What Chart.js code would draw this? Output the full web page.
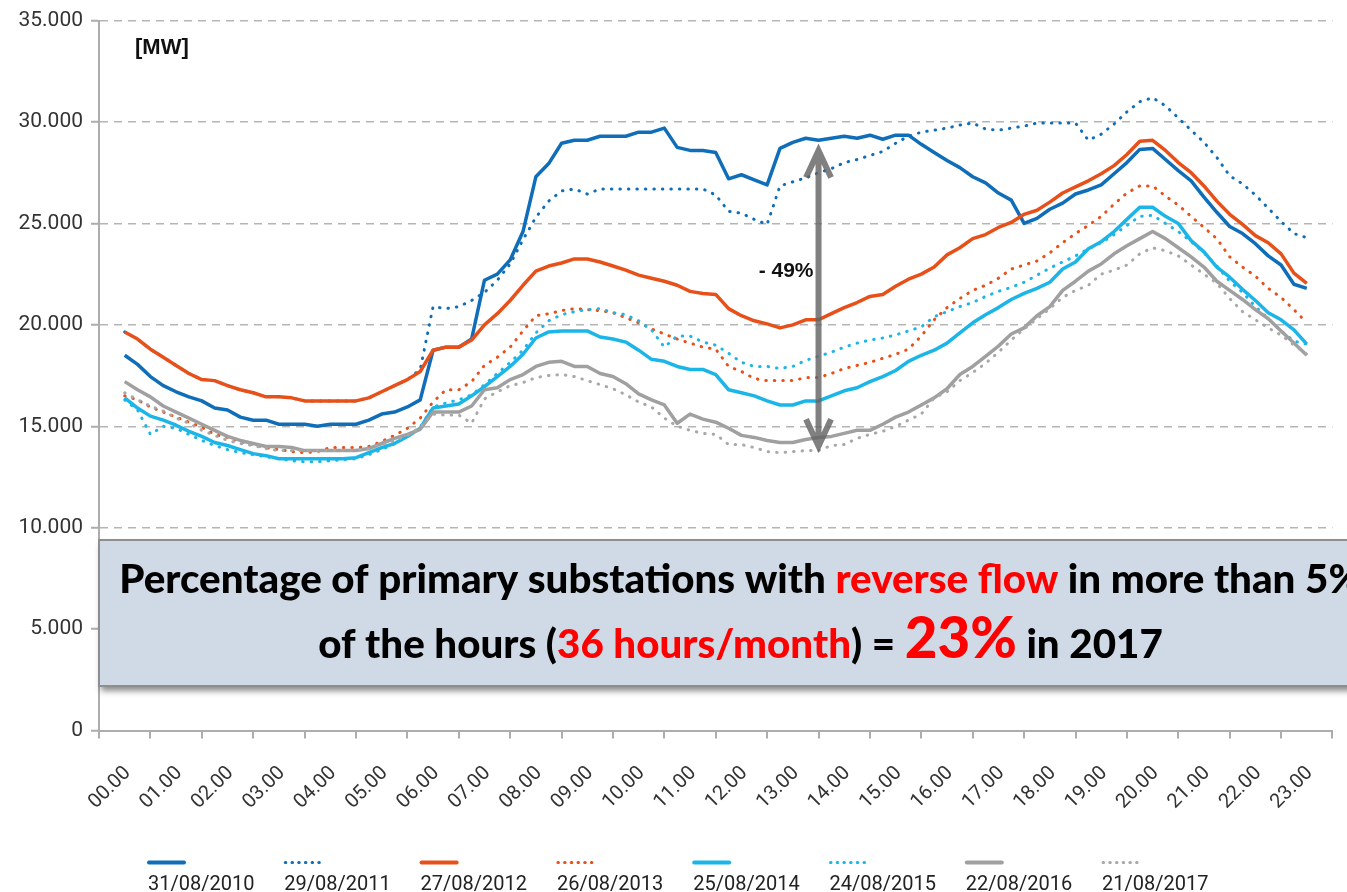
<!DOCTYPE html>
<html>
<head>
<meta charset="utf-8">
<script src="https://cdn.jsdelivr.net/npm/chart.js@4.4.0/dist/chart.umd.min.js"></script>
<style>
html,body{margin:0;padding:0;background:#fff;}
#wrap{width:1347px;height:892px;position:relative;}
</style>
</head>
<body>
<div id="wrap"><canvas id="c"></canvas></div>
<script>
// ---------- DATA ----------
const hourLabels = ['00.00','01.00','02.00','03.00','04.00','05.00','06.00','07.00','08.00','09.00','10.00','11.00',
  '12.00','13.00','14.00','15.00','16.00','17.00','18.00','19.00','20.00','21.00','22.00','23.00'];

const seriesNames = ['31/08/2010','29/08/2011','27/08/2012','26/08/2013','25/08/2014','24/08/2015','22/08/2016','21/08/2017'];

// quarter-hour samples, 00:00 .. 23:00 (MW)
const s2010 = [18500,18050,17450,17000,16700,16450,16250,15900,15800,15450,
  15300,15300,15100,15100,15100,15000,15100,15100,15100,15300,
  15600,15700,15950,16300,18750,18900,18900,19300,22200,22500,
  23200,24600,27300,27950,28950,29100,29100,29300,29300,29300,
  29500,29500,29700,28750,28600,28600,28500,27200,27400,27150,
  26900,28700,29000,29200,29100,29200,29300,29200,29350,29150,
  29350,29350,28900,28500,28100,27750,27300,27000,26500,26150,
  25000,25250,25700,26000,26450,26650,26900,27450,28000,28650,
  28700,28150,27600,27100,26300,25550,24850,24500,24000,23400,
  22950,22000,21800];

const s2011 = [19650,19300,18800,18400,18000,17600,17300,17250,17000,16800,
  16650,16450,16450,16400,16250,16250,16250,16250,16250,16400,
  16700,17000,17300,17800,20900,20800,20900,21200,21600,22200,
  23000,24200,25300,26100,26600,26700,26450,26700,26700,26700,
  26700,26700,26700,26700,26700,26700,26400,25600,25500,25200,
  24950,26850,27050,27250,27500,27700,28000,28150,28350,28550,
  28950,29300,29500,29600,29700,29850,29950,29650,29600,29700,
  29800,29950,29950,29950,29950,29100,29400,29900,30500,31000,
  31200,30800,30200,29600,29000,28250,27350,26950,26400,25750,
  25100,24500,24300];

const s2012 = [19650,19300,18800,18400,18000,17600,17300,17250,17000,16800,
  16650,16450,16450,16400,16250,16250,16250,16250,16250,16400,
  16700,17000,17300,17700,18750,18900,18900,19250,20000,20550,
  21200,21950,22650,22900,23050,23250,23250,23100,22900,22700,
  22450,22300,22150,21950,21650,21550,21500,20800,20450,20200,
  20050,19850,20000,20250,20250,20550,20850,21100,21400,21500,
  21900,22250,22500,22850,23450,23800,24250,24450,24800,25050,
  25450,25650,26050,26500,26800,27100,27450,27850,28400,29050,
  29100,28600,28000,27500,26850,26100,25450,24950,24400,24050,
  23500,22550,22050];

const s2013 = [16500,16300,15950,15700,15450,15200,14950,14600,14450,14250,
  14100,13950,13850,13750,13700,13750,13950,13950,13950,14000,
  14250,14550,14900,15400,16200,16800,16800,17200,18000,18400,
  18900,19700,20450,20550,20700,20800,20750,20700,20600,20350,
  20100,19800,19550,19300,19100,18900,18800,17950,17700,17350,
  17250,17250,17250,17400,17400,17600,17850,18000,18150,18350,
  18550,18800,19450,20250,20850,21300,21700,21950,22300,22750,
  22950,23150,23550,24050,24500,24900,25350,25950,26500,26850,
  26850,26350,25900,25350,24800,24250,23350,22850,22400,21800,
  21350,20750,20100];

const s2014 = [16400,15900,15500,15300,15050,14750,14500,14200,14050,13850,
  13650,13550,13400,13400,13400,13400,13400,13400,13450,13700,
  13950,14150,14500,14900,15900,16000,16100,16500,16950,17450,
  17950,18550,19350,19650,19700,19700,19700,19400,19300,19150,
  18750,18300,18200,17950,17800,17800,17550,16800,16650,16500,
  16250,16050,16050,16250,16250,16500,16750,16900,17200,17450,
  17750,18200,18500,18750,19100,19600,20100,20500,20850,21250,
  21550,21800,22100,22750,23100,23750,24100,24600,25200,25800,
  25800,25350,25000,24150,23600,22850,22350,21750,21200,20600,
  20250,19750,19050];

const s2015 = [16300,15800,14600,15000,14900,14600,14300,14050,13850,13700,
  13600,13500,13400,13300,13250,13250,13300,13350,13400,13600,
  13850,14150,14500,14950,15950,16150,16300,16550,17050,17600,
  18150,18750,19600,20200,20500,20650,20750,20800,20600,20500,
  20200,19750,18900,19450,19450,19150,19000,18600,18150,17950,
  17950,17850,17950,18250,18450,18650,18900,19100,19250,19350,
  19500,19700,19900,20400,20650,20900,21100,21400,21650,21850,
  22100,22450,22800,23100,23400,23750,24050,24450,24900,25350,
  25400,25000,24600,24100,23550,22900,22150,21600,20900,20300,
  19700,19200,19050];

const s2016 = [17200,16800,16450,16000,15700,15400,15100,14800,14500,14300,
  14150,14000,14000,13950,13800,13800,13800,13800,13800,13900,
  14150,14400,14600,14850,15700,15700,15700,16000,16800,16900,
  17300,17550,17950,18150,18200,17950,17950,17600,17450,17100,
  16600,16300,16050,15150,15600,15350,15200,14900,14550,14450,
  14300,14200,14200,14350,14450,14500,14650,14800,14800,15100,
  15450,15700,16050,16400,16850,17550,17950,18450,18950,19550,
  19850,20450,20900,21700,22150,22650,23000,23500,23900,24250,
  24600,24250,23800,23350,22850,22150,21700,21250,20750,20300,
  19700,19100,18500];

const s2017 = [16650,16300,16000,15750,15400,15150,14800,14550,14300,14150,
  14050,13900,13800,13800,13800,13800,13800,13800,13800,13900,
  14100,14300,14550,14950,15600,15550,15550,15150,16350,16700,
  17000,17150,17400,17500,17550,17450,17250,17050,16850,16550,
  16200,15950,15400,15000,14800,14650,14600,14100,14100,13950,
  13750,13700,13750,13800,13800,14050,14100,14400,14600,14750,
  15000,15300,15600,16400,16700,17250,17650,18100,18650,19250,
  19800,20300,20800,21350,21700,21950,22500,22700,22950,23500,
  23800,23650,23400,22950,22500,22050,21300,20650,20250,19850,
  19500,19000,18550];

const yTicks = [0,5000,10000,15000,20000,25000,30000,35000];

// annotation values
const arrowHour = 13.5, arrowTop = 28740, arrowBottom = 13870;
const arrowLabel = '- 49%';

// ---------- STYLES ----------
const seriesValues = [s2010,s2011,s2012,s2013,s2014,s2015,s2016,s2017];
const seriesColors = ['#106EB9','#106EB9','#E8501A','#E8501A','#1BB5E8','#1BB5E8','#A0A0A0','#A8A8A8'];
const seriesDotted = [false,true,false,true,false,true,false,true];
const times = s2010.map((_, i) => i / 4); // hour of each quarter-hour sample

const datasets = seriesValues.map((vals, i) => ({
  label: seriesNames[i],
  data: vals.map((v, k) => ({x: times[k], y: v})),
  xAxisID: 'xl',
  yAxisID: 'y',
  borderColor: seriesColors[i],
  backgroundColor: seriesColors[i],
  borderWidth: seriesDotted[i] ? 3 : 3.5,
  borderDash: seriesDotted[i] ? [0.5, 8] : [],
  borderCapStyle: seriesDotted[i] ? 'round' : 'butt',
  borderJoinStyle: 'round',
  pointRadius: 0,
  tension: 0,
  fill: false,
  order: 7 - i
}));

function fmt(v){ return String(v).replace(/\B(?=(\d{3})+(?!\d))/g, '.'); }

const overlay = {
  id: 'overlay',
  afterDatasetsDraw(chart) {
    const ctx = chart.ctx, xl = chart.scales.xl, y = chart.scales.y;
    const ax = xl.getPixelForValue(arrowHour);
    const yT = y.getPixelForValue(arrowTop), yB = y.getPixelForValue(arrowBottom);
    ctx.save();
    ctx.strokeStyle = 'rgba(100,100,100,0.82)';
    ctx.lineWidth = 6;
    ctx.lineJoin = 'miter';
    ctx.lineCap = 'butt';
    ctx.beginPath();
    ctx.moveTo(ax - 12.5, yT + 30); ctx.lineTo(ax, yT + 3); ctx.lineTo(ax + 12.5, yT + 30);
    ctx.moveTo(ax, yT + 4); ctx.lineTo(ax, yB - 4);
    ctx.moveTo(ax - 12.5, yB - 30); ctx.lineTo(ax, yB - 3); ctx.lineTo(ax + 12.5, yB - 30);
    ctx.stroke();
    ctx.fillStyle = '#111';
    ctx.font = 'bold 21px "Liberation Sans", Arial, sans-serif';
    ctx.textAlign = 'right';
    ctx.textBaseline = 'middle';
    ctx.fillText(arrowLabel, ax - 5, y.getPixelForValue(22620));
    // unit label
    ctx.textAlign = 'left';
    ctx.textBaseline = 'alphabetic';
    ctx.font = 'bold 22px "Liberation Sans", Arial, sans-serif';
    ctx.fillText('[MW]', chart.chartArea.left + 36, chart.chartArea.top + 33);
    ctx.restore();
  },
  afterDraw(chart) {
    const ctx = chart.ctx;
    const left = chart.chartArea.left;
    ctx.save();
    // box
    ctx.shadowColor = 'rgba(0,0,0,0.45)';
    ctx.shadowBlur = 6;
    ctx.shadowOffsetX = 2;
    ctx.shadowOffsetY = 5;
    ctx.fillStyle = '#CFDAE6';
    ctx.fillRect(left, 540, 1400 - left, 146);
    ctx.shadowColor = 'rgba(0,0,0,0)';
    ctx.strokeStyle = '#8E8E8E';
    ctx.lineWidth = 2;
    ctx.strokeRect(left, 540, 1400 - left, 146);

    const cx = 740.5;
    const fam = 'Lato, "Open Sans", sans-serif';
    const wt = 900;
    let fs = 40;
    const line1 = [['Percentage of primary substations with ', '#000'], ['reverse flow', '#FF0000'], [' in more than 5%', '#000']];
    ctx.font = `${wt} ${fs}px ${fam}`;
    let w1 = line1.reduce((a, p) => a + ctx.measureText(p[0]).width, 0);
    fs = fs * 1243 / w1;
    ctx.font = `${wt} ${fs}px ${fam}`;
    w1 = line1.reduce((a, p) => a + ctx.measureText(p[0]).width, 0);
    ctx.textBaseline = 'alphabetic';
    ctx.textAlign = 'left';
    let x = cx - w1 / 2;
    for (const [t, c] of line1) { ctx.fillStyle = c; ctx.fillText(t, x, 593); x += ctx.measureText(t).width; }

    const big = fs * 1.4;
    const line2 = [['of the hours (', '#000', fs], ['36 hours/month', '#FF0000', fs], [') = ', '#000', fs], ['23%', '#FF0000', big], [' in 2017', '#000', fs]];
    let w2 = 0;
    for (const [t, c, s] of line2) { ctx.font = `${wt} ${s}px ${fam}`; w2 += ctx.measureText(t).width; }
    x = cx - w2 / 2;
    for (const [t, c, s] of line2) { ctx.font = `${wt} ${s}px ${fam}`; ctx.fillStyle = c; ctx.fillText(t, x, 658); x += ctx.measureText(t).width; }

    // legend
    ctx.font = '20px Roboto, sans-serif';
    ctx.textAlign = 'left';
    ctx.textBaseline = 'alphabetic';
    chart.data.datasets.forEach((ds, i) => {
      const x0 = 148 + i * 136.3;
      ctx.strokeStyle = ds.borderColor;
      ctx.lineWidth = 4;
      if (seriesDotted[i]) { ctx.setLineDash([0.5, 6.2]); ctx.lineCap = 'round'; ctx.lineWidth = 3; }
      else { ctx.setLineDash([]); ctx.lineCap = 'round'; }
      ctx.beginPath();
      ctx.moveTo(x0 + 1, 862.5); ctx.lineTo(x0 + 36, 862.5);
      ctx.stroke();
      ctx.setLineDash([]);
      ctx.fillStyle = '#222';
      ctx.fillText(ds.label, x0, 890);
    });
    ctx.restore();
  }
};

new Chart(document.getElementById('c'), {
  type: 'line',
  data: { labels: hourLabels, datasets },
  options: {
    responsive: true,
    maintainAspectRatio: false,
    animation: false,
    events: [],
    layout: { padding: { top: 15, right: 12, bottom: 0, left: 0 } },
    plugins: { legend: { display: false }, tooltip: { enabled: false } },
    scales: {
      x: {
        type: 'category',
        labels: hourLabels,
        offset: true,
        position: 'bottom',
        grid: { offset: true, drawOnChartArea: false, drawTicks: true, tickLength: 8, color: '#ADADAD', lineWidth: 2 },
        border: { display: true, color: '#ADADAD', width: 2 },
        ticks: {
          autoSkip: false, minRotation: 45, maxRotation: 45, padding: 23, labelOffset: 3,
          color: '#333', font: { family: 'Roboto', size: 20 }
        },
        afterFit(scale) { scale.height = 161.5; }
      },
      xl: {
        type: 'linear', display: false, min: -0.5, max: 23.5, position: 'bottom'
      },
      y: {
        type: 'linear', min: 0, max: 35000,
        afterBuildTicks(scale) { scale.ticks = yTicks.map(v => ({ value: v })); },
        grid: { color: '#B5B5B5', lineWidth: 1.5, tickBorderDash: [], tickColor: '#ADADAD', tickLength: 8, tickWidth: 2 },
        border: { display: true, color: '#ADADAD', width: 2, dash: [8, 6] },
        ticks: { padding: 8, color: '#333', font: { family: 'Roboto', size: 21 }, callback: v => fmt(v) },
        afterFit(scale) { scale.width = 99; }
      }
    }
  },
  plugins: [overlay]
});
</script>
</body>
</html>
